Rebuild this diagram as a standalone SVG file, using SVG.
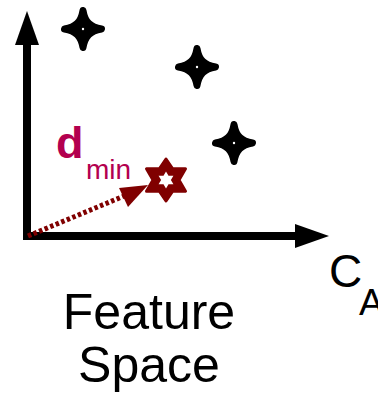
<svg xmlns="http://www.w3.org/2000/svg" width="378" height="400" viewBox="0 0 378 400">
<defs>
<style>
.ax{stroke:#000;stroke-width:8;fill:none}
.pt{fill:#000;stroke:#000;stroke-width:7;stroke-linejoin:round}
.dot{fill:#fff}
.lbl{font-family:"Liberation Sans",Arial,sans-serif;fill:#000}
.dm{font-family:"Liberation Sans",Arial,sans-serif;fill:#B3004F}
</style>
<path id="star4" d="M0,-18.5 C2,-7 7,-2 18.5,0 C7,2 2,7 0,18.5 C-2,7 -7,2 -18.5,0 C-7,-2 -2,-7 0,-18.5 Z"/>
</defs>
<rect width="378" height="400" fill="#fff"/>
<g id="axes">
<line class="ax" x1="27" y1="240" x2="27" y2="40"/>
<polygon points="27,11 15,45 39,45" fill="#000"/>
<line class="ax" x1="23" y1="236" x2="298" y2="236"/>
<polygon points="329,236 295,224 295,248" fill="#000"/>
</g>
<g id="connectors">
<line x1="28" y1="236" x2="124" y2="196" stroke="#800000" stroke-width="5" stroke-dasharray="3.5,2.5"/>
<polygon points="148,185 119,188 128,207" fill="#800000"/>
</g>
<g id="point1"><use href="#star4" class="pt" x="83" y="29"/><circle class="dot" cx="83" cy="29" r="1.2"/></g>
<g id="point2"><use href="#star4" class="pt" x="197" y="67"/><circle class="dot" cx="197" cy="67" r="1.2"/></g>
<g id="point3"><use href="#star4" class="pt" x="234" y="143"/><circle class="dot" cx="234" cy="143" r="1.2"/></g>
<g id="query">
<polygon transform="translate(166,180)" points="0,-21 6.5,-11.3 19.5,-11.3 13,0 19.5,11.3 6.5,11.3 0,21 -6.5,11.3 -19.5,11.3 -13,0 -19.5,-11.3 -6.5,-11.3" fill="#800000" stroke="#800000" stroke-width="3" stroke-linejoin="round"/>
<polygon transform="translate(166,180)" points="0,-8.5 2.5,-4.3 7.4,-4.3 4.9,0 7.4,4.3 2.5,4.3 0,8.5 -2.5,4.3 -7.4,4.3 -4.9,0 -7.4,-4.3 -2.5,-4.3" fill="#fff"/>
</g>
<g id="dmin">
<text class="dm" x="56" y="158" font-size="45" font-weight="bold">d</text>
<text class="dm" x="86" y="179" font-size="28">min</text>
</g>
<g id="axis-label">
<text class="lbl" x="329" y="287" font-size="46">C</text>
<text class="lbl" x="359" y="315" font-size="37">A</text>
</g>
<g id="title">
<text class="lbl" x="149" y="329" font-size="50" text-anchor="middle">Feature</text>
<text class="lbl" x="149" y="382" font-size="50" text-anchor="middle">Space</text>
</g>
</svg>
